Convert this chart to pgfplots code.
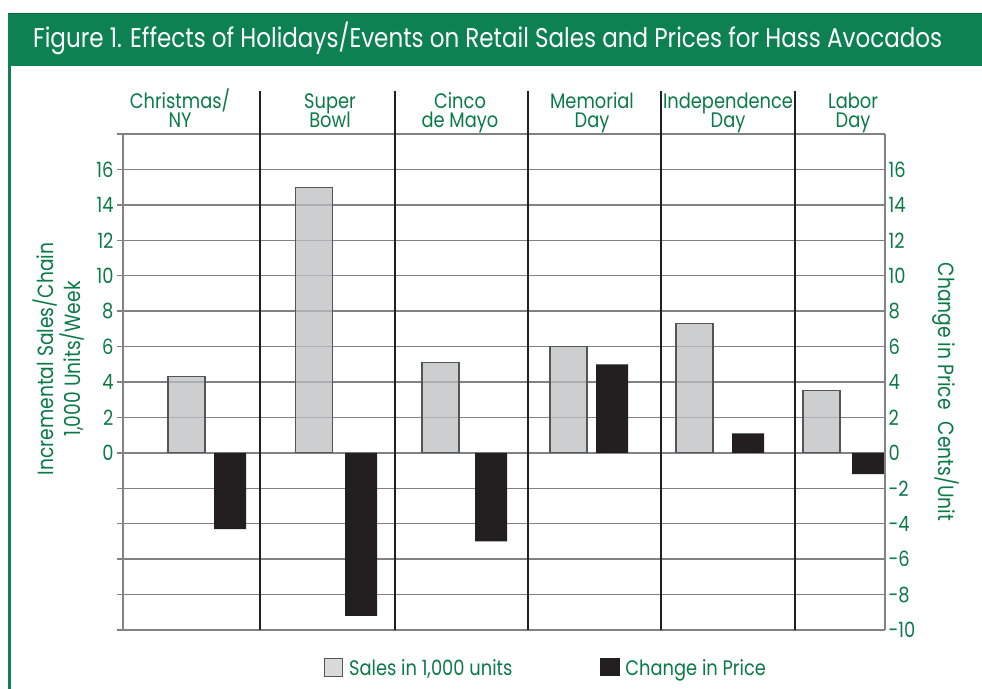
\documentclass[border=0pt]{standalone}
\usepackage{fontspec}
\setmainfont[FakeStretch=0.85]{Poppins}
\usepackage{pgfplots}
\pgfplotsset{compat=1.18}
\definecolor{bannergreen}{RGB}{13,129,82}
\definecolor{textgreen}{RGB}{10,122,70}
\definecolor{gridgray}{RGB}{130,130,132}
\definecolor{bargray}{RGB}{188,189,192}
\definecolor{baredge}{RGB}{85,85,85}
\definecolor{barblack}{RGB}{35,31,32}
\newcommand\catlabel[3]{%
  \node[anchor=base,text=textgreen,inner sep=0,font=\fontsize{21bp}{21bp}\selectfont] at (#1,580) {#2};
  \node[anchor=base,text=textgreen,inner sep=0,font=\fontsize{21bp}{21bp}\selectfont] at (#1,561) {#3};}
\begin{document}
\begin{tikzpicture}[x=1bp,y=1bp]
\path[use as bounding box] (0,0) rectangle (982,689);
\fill[bannergreen] (8,623) rectangle (982,676);
\fill[bannergreen!80!black] (8,674.5) rectangle (982,676);
\fill[bannergreen] (8,0) rectangle (11,623);
\node[anchor=base west,text=white,inner sep=0,font=\fontsize{27bp}{30bp}\selectfont] at (33,641)
  {\resizebox{909bp}{!}{Figure 1. Effects of Holidays/Events on Retail Sales and Prices for Hass Avocados}};

\begin{axis}[
  at={(123bp,59bp)}, anchor=south west,
  scale only axis, width=762bp, height=496bp,
  xmin=123, xmax=885, ymin=-10, ymax=18,
  axis x line=none, axis y line*=left,
  axis line style={gridgray, line width=1.5bp, -},
  xtick=\empty,
  ytick={-10,-8,...,18},
  yticklabels={{},{},{},{},{},0,2,4,6,8,10,12,14,16,{}},
  ymajorgrids, grid style={gridgray, line width=1.5bp},
  tick align=outside, major tick length=6bp,
  ytick style={gridgray, line width=1.5bp},
  yticklabel style={text=textgreen, font=\fontsize{21bp}{21bp}\selectfont},
  clip=false,
  legend columns=2,
  legend cell align=left,
  legend style={at={(0.555,-0.077)}, anchor=center, draw=none, fill=none,
    font=\fontsize{21bp}{21bp}\selectfont, text=textgreen,
    /tikz/every even column/.append style={column sep=86bp}},
]
\addplot[ybar, bar width=37, bar shift=0pt, fill=bargray, fill opacity=0.75, draw=baredge, line width=1.2bp,
  legend image code/.code={\draw[fill=bargray!75!white, draw=baredge, line width=1.2bp] (0bp,-8bp) rectangle (18bp,10bp); \path (22bp,0bp);}]
  coordinates {(186.5,4.3) (314,15) (440.5,5.1) (568.5,6.0) (694.5,7.3) (821.5,3.5)};
\addlegendentry{Sales in 1,000 units}
\addplot[ybar, bar width=32, bar shift=0pt, fill=barblack, draw=none,
  legend image code/.code={\fill[barblack] (0bp,-8bp) rectangle (20bp,10bp); \path (23bp,0bp);}]
  coordinates {(230,-4.3) (361,-9.2) (491,-5.0) (612,5.0) (748,1.1) (868,-1.2)};
\addlegendentry{Change in Price}
\pgfplotsinvokeforeach{260,395,528,661,795}{
  \draw[barblack, line width=2bp] (axis cs:#1,-10) -- (axis cs:#1,20.4);
}
\end{axis}

\begin{axis}[
  at={(123bp,59bp)}, anchor=south west,
  scale only axis, width=762bp, height=496bp,
  xmin=123, xmax=885, ymin=-10, ymax=18,
  axis x line=none, axis y line*=right,
  axis line style={gridgray, line width=1.5bp, -},
  xtick=\empty,
  ytick={-10,-8,...,16},
  yticklabels={-10,-8,-6,-4,-2,0,2,4,6,8,10,12,14,16},
  major tick length=0pt,
  ytick style={draw=none},
  yticklabel style={text=textgreen, font=\fontsize{21bp}{21bp}\selectfont},
]
\end{axis}

\catlabel{180}{Christmas/}{NY}
\catlabel{330}{Super}{Bowl}
\catlabel{460}{Cinco}{de Mayo}
\catlabel{592}{Memorial}{Day}
\catlabel{728}{Independence}{Day}
\catlabel{853}{Labor}{Day}

\node[rotate=90,anchor=base,text=textgreen,inner sep=0,font=\fontsize{22bp}{22bp}\selectfont] at (53,330) {Incremental Sales/Chain};
\node[rotate=90,anchor=base,text=textgreen,inner sep=0,font=\fontsize{22bp}{22bp}\selectfont] at (80,330) {1,000 Units/Week};
\node[rotate=-90,anchor=base,text=textgreen,inner sep=0,font=\fontsize{22bp}{22bp}\selectfont] at (938,297) {Change in Price\hspace{12bp}Cents/Unit};
\end{tikzpicture}
\end{document}
